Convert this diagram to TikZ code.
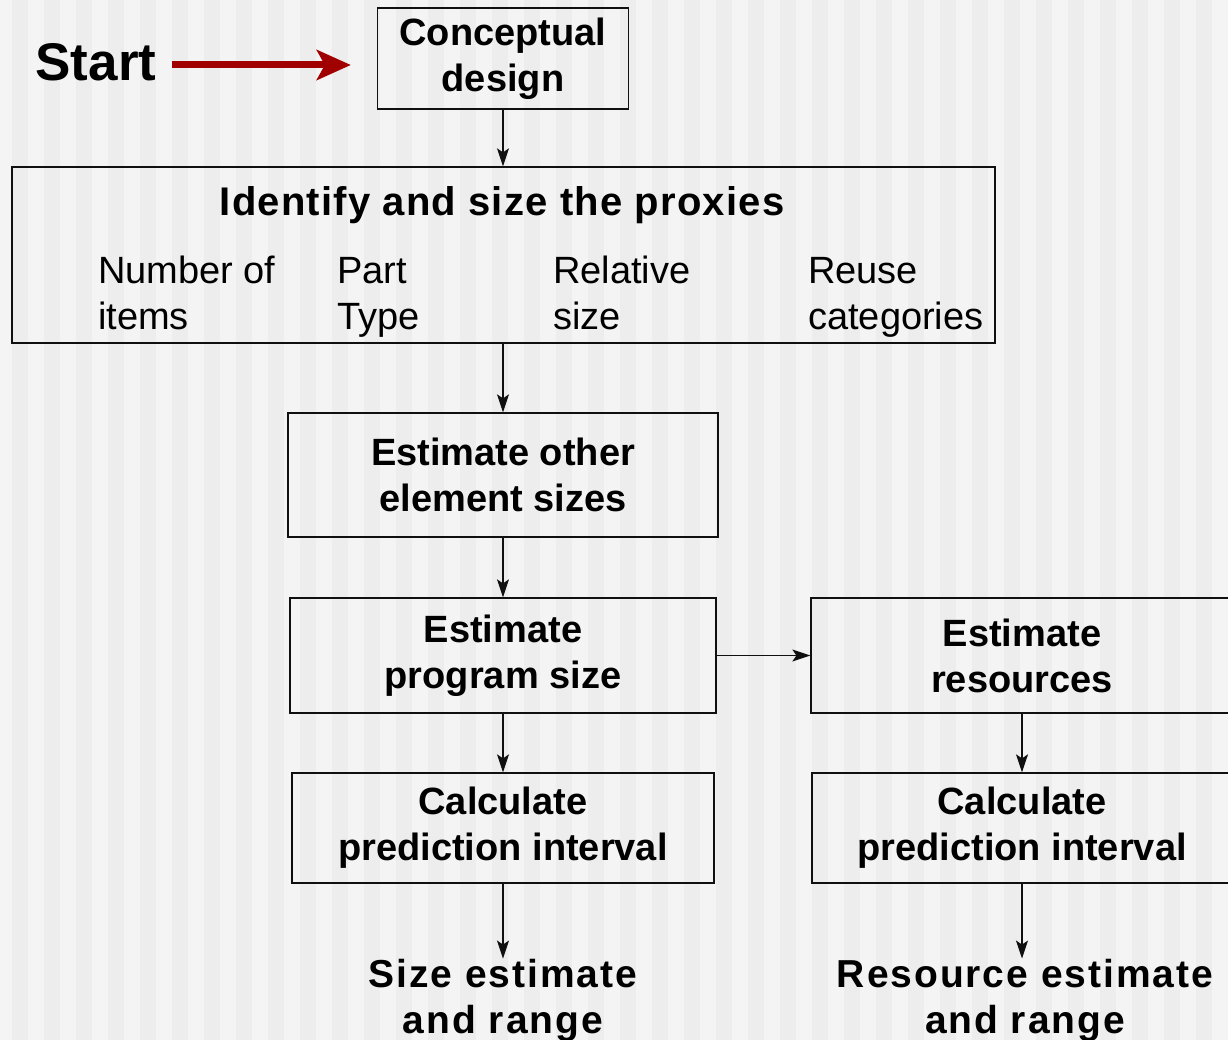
\documentclass[tikz,border=0pt]{standalone}
\usepackage{fontspec}
\setmainfont{Liberation Sans}
\usetikzlibrary{arrows.meta}
\definecolor{bgpale}{HTML}{F4F4F4}
\definecolor{bgband}{HTML}{EDEDED}
\definecolor{startred}{HTML}{A00000}
\definecolor{ink}{HTML}{101010}

\tikzset{
  stepbox/.style={draw=ink, line width=1.3pt, inner sep=0pt, align=center,
    font=\fontsize{38}{46}\selectfont\bfseries},
  item/.style={inner sep=0pt, align=left, anchor=north west,
    font=\fontsize{38}{46}\selectfont},
  outtext/.style={inner sep=0pt, align=center,
    font=\fontsize{39}{46}\selectfont\bfseries\addfontfeatures{LetterSpace=5}},
  flow/.style={draw=ink, line width=1.3pt, -{Stealth[length=18pt,width=12pt,inset=4pt]}},
}

\begin{document}
\begin{tikzpicture}[x=1pt, y=-1pt]
    \useasboundingbox (0,0) rectangle (1228,1040);
    \fill[bgpale] (0,0) rectangle (1228,1040);
    \foreach \x in {12,44,...,1228}
      \fill[bgband] (\x,0) rectangle ++(16,1040);

    % start and first step
    \node[inner sep=0pt, font=\fontsize{53}{60}\selectfont\bfseries] (start) at (96,62) {Start};
    \node[stepbox, minimum width=251pt, minimum height=101pt] (concept) at (503,58.5) {Conceptual\\design};
    \coordinate (startout) at ([yshift=-3pt]start.east);
    \draw[startred, line width=7pt, shorten <=15pt, shorten >=26pt,
      -{Stealth[length=34pt,width=30pt,inset=8pt]}] (startout) -- (startout -| concept.west);

    % proxies
    \node[draw=ink, line width=1.3pt, minimum width=983pt, minimum height=176pt] (ident) at (503.5,255) {};
    \node[inner sep=0pt, font=\fontsize{40}{46}\selectfont\bfseries\addfontfeatures{LetterSpace=3}] (identtitle) at (502,205) {Identify and size the proxies};
    \node[item] (numitems) at (98,251) {\strut Number of\\items};
    \node[item] (parttype) at (337,251) {\strut Part\\Type};
    \node[item] (relsize) at (553,251) {\strut Relative\\size};
    \node[item] (reuse) at (808,251) {\strut Reuse\\categories};

    % size branch
    \node[stepbox, minimum width=430pt, minimum height=124pt] (other) at (503,475) {Estimate other\\element sizes};
    \node[stepbox, minimum width=426pt, minimum height=115pt] (progsize) at (503,655.5) {Estimate\\program size};
    \node[stepbox, minimum width=422pt, minimum height=110pt] (calcsize) at (503,828) {Calculate\\prediction interval};
    \node[outtext] (sizeout) at (503,1000) {Size estimate\\and range};

    % resource branch
    \node[stepbox, minimum width=422pt, minimum height=115pt] (resources) at (1022,655.5) {Estimate\\resources};
    \node[stepbox, minimum width=420pt, minimum height=110pt] (calcres) at (1022,828) {Calculate\\prediction interval};
    \node[outtext] (resout) at (1025,1000) {Resource estimate\\and range};

    \draw[flow] (concept) -- (concept |- ident.north);
    \draw[flow] (concept |- ident.south) -- (other);
    \draw[flow] (other) -- (progsize);
    \draw[flow] (progsize) -- (resources);
    \draw[flow] (progsize) -- (calcsize);
    \draw[flow] (resources) -- (calcres);
    \draw[flow] (calcsize) -- (calcsize |- sizeout.north);
    \draw[flow] (calcres) -- (calcres |- resout.north);
  \end{tikzpicture}
\end{document}
